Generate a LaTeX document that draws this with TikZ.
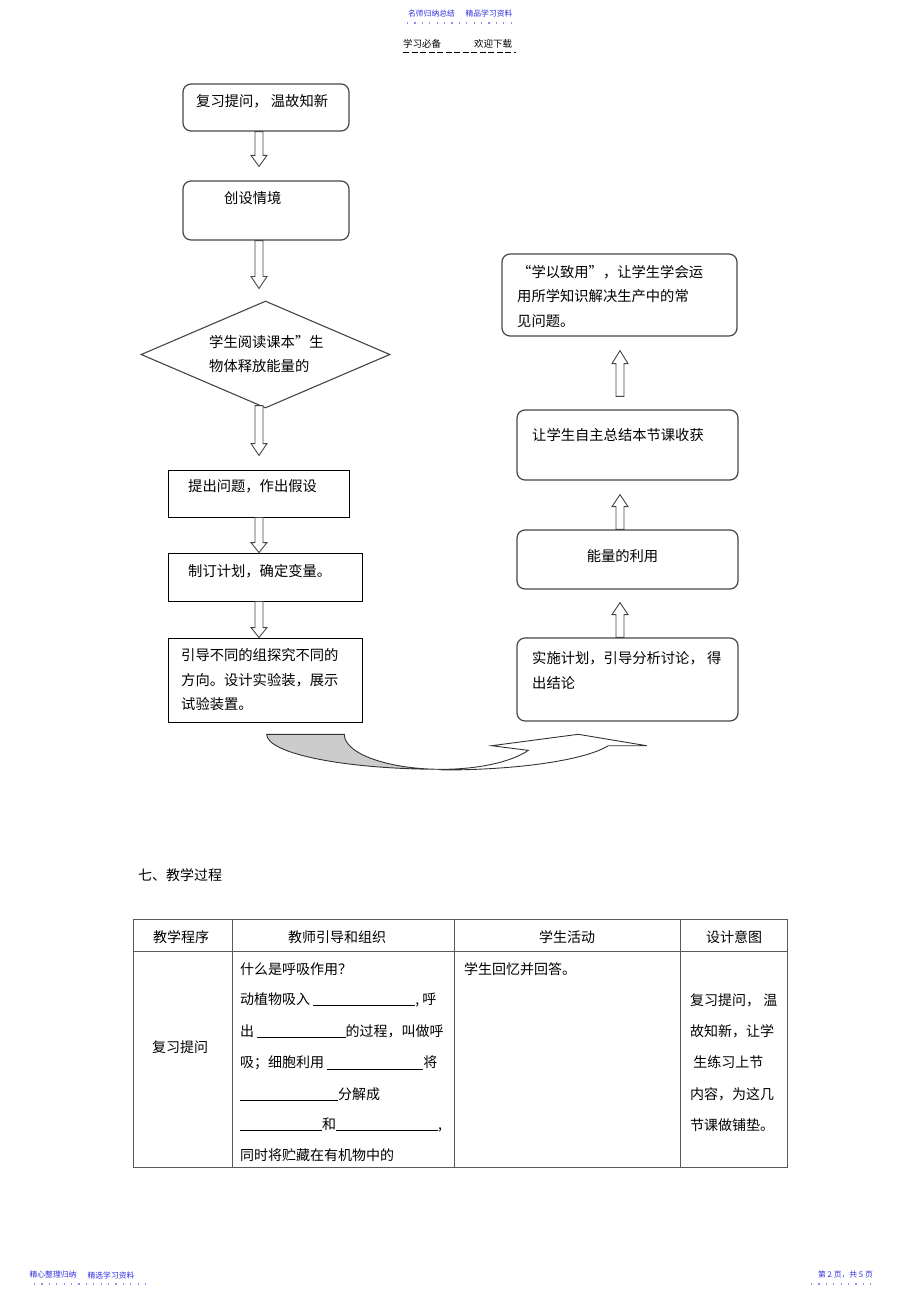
\documentclass[tikz,border=0pt]{standalone}
\usepackage{fontspec}
\usepackage{tikz}
\usetikzlibrary{shapes.geometric, positioning, calc}
\usepackage{xcolor}
\newfontfamily\cjk{Noto Sans CJK SC}
\definecolor{headblue}{RGB}{45,45,225}
\definecolor{dotblue}{RGB}{140,140,240}
\definecolor{shadegray}{RGB}{204,204,204}
\definecolor{boxline}{RGB}{70,70,70}
\tikzset{roundbox/.style={rectangle, rounded corners=8pt, draw=boxline, line width=1.2pt, inner sep=0pt},plainbox/.style={rectangle, draw=black, line width=0.9pt, inner sep=0pt}}
\tikzset{flowtext/.style={anchor=west, inner sep=0pt, align=left, font=\cjk\fontsize{14.3}{24.5}\selectfont},celltext/.style={inner sep=0pt, font=\cjk\fontsize{14}{16}\selectfont}}
\newcommand{\hollowarrow}[3]{%
  \draw[blockarrow] let \p1=(#1), \p2=(#2) in
    (\x1-4pt,\y1) -- (\x1-4pt,\y2#3) -- (\x1-8pt,\y2#3) -- (\x2,\y2) -- (\x1+8pt,\y2#3) -- (\x1+4pt,\y2#3) -- (\x1+4pt,\y1) -- cycle;}
\newcommand{\blank}[1]{\rule[-1.5pt]{#1pt}{0.7pt}}

\begin{document}
\begin{tikzpicture}[
        x=1pt, y=-1pt,
        blockarrow/.style={draw=boxline, fill=white, line width=0.9pt, line join=miter},
        curvearrow/.style={draw=black!80, line width=0.9pt},
        tableline/.style={draw=black!65, line width=0.9pt},
        headtext/.style={inner sep=0pt, text=headblue, font=\cjk\fontsize{7.8}{9}\selectfont},
        subhead/.style={inner sep=0pt, font=\cjk\fontsize{9.5}{11}\selectfont},
        dotrule/.style={dotblue, line width=1.2pt, dash pattern=on 1.2pt off 6.2pt},
        dashrule/.style={black, line width=1pt, dash pattern=on 6pt off 2.5pt}
    ]
        \useasboundingbox (0,0) rectangle (920,1303);
        % Page head
        \node[headtext] (headleft) at (431.5,14) {名师归纳总结};
        \node[headtext] (headright) at (489,14) {精品学习资料};
        \draw[dotrule] (407,23) -- (516,23);
        \node[subhead] (subleft) at (422,44) {学习必备};
        \node[subhead] (subright) at (493,44) {欢迎下载};
        \draw[dashrule] (403,53) -- (516,53);
        % Left column
        \coordinate (lx) at (259,0);
        \node[roundbox, minimum width=166pt, minimum height=47pt] (review) at (266,107.5) {};
        \node[flowtext] (reviewtext) at (196,101) {复习提问， 温故知新};
        \node[roundbox, minimum width=166pt, minimum height=59pt] (scene) at (266,210.5) {};
        \node[flowtext] (scenetext) at (224,198) {创设情境};
        \node[diamond, draw=boxline, line width=1.1pt, inner sep=0pt, minimum width=249pt, minimum height=107pt] (reading) at (265.5,354.5) {};
        \node[flowtext] (readingtext) at (209,354) {学生阅读课本”生\\物体释放能量的};
        \node[plainbox, minimum width=181pt, minimum height=47pt] (question) at (258.5,493.5) {};
        \node[flowtext] (questiontext) at (188,486) {提出问题，作出假设};
        \node[plainbox, minimum width=194pt, minimum height=48pt] (plan) at (265,577) {};
        \node[flowtext] (plantext) at (188,571) {制订计划，确定变量。};
        \node[plainbox, minimum width=194pt, minimum height=84pt] (guide) at (265,680) {};
        \node[flowtext] (guidetext) at (181,680) {引导不同的组探究不同的\\方向。设计实验装，展示\\试验装置。};
        % Right column
        \coordinate (rx) at (620,0);
        \node[roundbox, minimum width=235pt, minimum height=82pt] (apply) at (619.5,295) {};
        \node[flowtext] (applytext) at (517,296) {“学以致用”，让学生学会运\\用所学知识解决生产中的常\\见问题。};
        \node[roundbox, minimum width=221pt, minimum height=70pt] (summary) at (627.5,445) {};
        \node[flowtext] (summarytext) at (532,435) {让学生自主总结本节课收获};
        \node[roundbox, minimum width=221pt, minimum height=59pt] (energy) at (627.5,559.5) {};
        \node[flowtext, anchor=center] (energytext) at (622.5,556) {能量的利用};
        \node[roundbox, minimum width=221pt, minimum height=83pt] (implement) at (627.5,679.5) {};
        \node[flowtext] (implementtext) at (532,670.5) {实施计划，引导分析讨论， 得\\出结论};
        % Block arrows
        \hollowarrow{review.south -| lx}{$(scene.north -| lx)+(0,-14)$}{+11pt}
        \hollowarrow{scene.south -| lx}{$(reading.north -| lx)+(0,-12)$}{+12pt}
        \hollowarrow{$(reading.south -| lx)+(0,-3)$}{$(question.north -| lx)+(0,-14)$}{+12pt}
        \hollowarrow{question.south -| lx}{plan.north -| lx}{+10pt}
        \hollowarrow{plan.south -| lx}{guide.north -| lx}{+10pt}
        \hollowarrow{implement.north -| rx}{$(energy.south -| rx)+(0,13)$}{-12pt}
        \hollowarrow{energy.north -| rx}{$(summary.south -| rx)+(0,14)$}{-12pt}
        \hollowarrow{$(summary.north -| rx)+(0,-13)$}{$(apply.south -| rx)+(0,14)$}{-13pt}
        % Curved arrow
        \filldraw[curvearrow, fill=shadegray] (266.7,734.3) -- (344.3,734.3) arc[start angle=180, end angle=90, x radius=97.4, y radius=35] arc[start angle=90, end angle=180, x radius=175, y radius=35] -- cycle;
        \filldraw[curvearrow, fill=white] (441.7,769.3) arc[start angle=90, end angle=27.3, x radius=97.4, y radius=35] -- (491.7,745.7) -- (578.3,734.3) -- (646.7,745.7) -- (608.3,745.7) arc[start angle=17.8, end angle=90, x radius=175, y radius=35] -- cycle;
        % Section title
        \node[celltext, anchor=west] (sectiontitle) at (138,875) {七、教学过程};
        % Table
        \draw[tableline] (133,919) rectangle (787,1167);
        \foreach \x in {232,454,680}
            \draw[tableline] (\x,919) -- (\x,1167);
        \draw[tableline] (133,951) -- (787,951);
        \node[celltext] (headstep) at (181,937) {教学程序};
        \node[celltext] (headteacher) at (337,937) {教师引导和组织};
        \node[celltext] (headstudent) at (567,937) {学生活动};
        \node[celltext] (headintent) at (734,937) {设计意图};
        \node[celltext] (step) at (180,1047) {复习提问};
        \foreach \y/\txt [count=\i] in {
            969/{什么是呼吸作用？},
            1000/{动植物吸入 \blank{102}, 呼},
            1031/{出\,\blank{89}的过程，叫做呼},
            1063/{吸；细胞利用 \blank{96}将},
            1094/{\blank{98}分解成},
            1125/{\blank{82}和\blank{102},},
            1155/{同时将贮藏在有机物中的}} {
            \node[celltext, anchor=west] (ask\i) at (240,\y) {\txt};
        }
        \node[celltext, anchor=west] (answer) at (464,969) {学生回忆并回答。};
        \foreach \y/\txt [count=\i] in {
            1000/{复习提问， 温},
            1031/{故知新，让学},
            1062/{\ 生练习上节},
            1094/{内容，为这几},
            1125/{节课做铺垫。}} {
            \node[celltext, anchor=west] (intent\i) at (690,\y) {\txt};
        }
        % Page foot
        \node[headtext] (footleft) at (53,1275) {精心整理归纳};
        \node[headtext] (footmid) at (111,1275) {精选学习资料};
        \draw[dotrule] (34,1284) -- (146,1284);
        \node[headtext] (footright) at (845.5,1275) {第 2 页，共 5 页};
        \draw[dotrule] (811,1284) -- (877,1284);
    \end{tikzpicture}
\end{document}
